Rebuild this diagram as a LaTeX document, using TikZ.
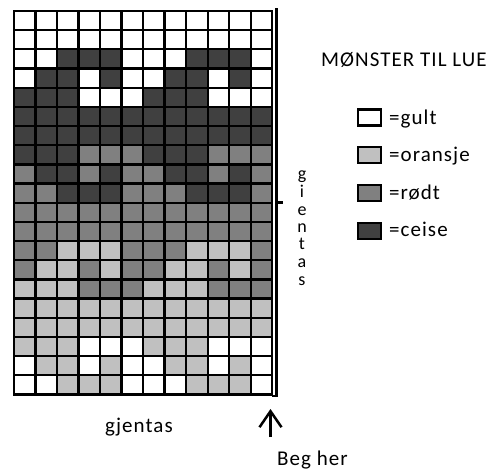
\documentclass[tikz,border=0pt]{standalone}
\usepackage{fontspec}
\setmainfont{Carlito}[LetterSpace=5]
\usetikzlibrary{arrows.meta}
\definecolor{cW}{gray}{1}
\definecolor{cO}{HTML}{C0C0C0}
\definecolor{cR}{HTML}{808080}
\definecolor{cC}{HTML}{404040}
\begin{document}
\begin{tikzpicture}[x=1pt,y=-1pt,
  gridline/.style={line width=2.3pt, black},
  lbl/.style={font=\fontsize{21}{24}\selectfont, inner sep=0pt, anchor=base west},
  vlet/.style={font=\fontsize{18}{20}\selectfont, inner sep=0pt, anchor=base},
  legbox/.style={draw, line width=2.3pt, minimum width=22.7pt, minimum height=16pt, inner sep=0pt}]
\useasboundingbox[fill=white] (0,0) rectangle (492,470);
\def\cw{21.52}\def\rh{19.175}
\foreach \row [count=\j from 0] in {
 {W,W,W,W,W,W,W,W,W,W,W,W},
 {W,W,W,W,W,W,W,W,W,W,W,W},
 {W,W,C,C,C,W,W,W,C,C,C,W},
 {W,C,C,W,C,W,W,C,C,W,C,W},
 {C,C,C,W,W,W,C,C,C,W,W,W},
 {C,C,C,C,C,C,C,C,C,C,C,C},
 {C,C,C,C,C,C,C,C,C,C,C,C},
 {C,C,C,R,R,R,C,C,C,R,R,R},
 {R,C,C,R,C,R,R,C,C,R,C,R},
 {R,R,C,C,C,R,R,R,C,C,C,R},
 {R,R,R,R,R,R,R,R,R,R,R,R},
 {R,R,R,R,R,R,R,R,R,R,R,R},
 {R,R,O,O,O,R,R,R,O,O,O,R},
 {R,O,O,R,O,R,R,O,O,R,O,R},
 {O,O,O,R,R,R,O,O,O,R,R,R},
 {O,O,O,O,O,O,O,O,O,O,O,O},
 {O,O,O,O,O,O,O,O,O,O,O,O},
 {O,O,O,W,W,W,O,O,O,W,W,W},
 {W,O,O,W,O,W,W,O,O,W,O,W},
 {W,W,O,O,O,W,W,W,O,O,O,W}} {
  \foreach \c [count=\i from 0] in \row {
    \fill[c\c] ({14+\i*\cw},{11+\j*\rh}) rectangle ++(\cw,\rh);
  }
}
\foreach \i in {1,...,11} \draw[gridline] ({14+\i*\cw},11) -- ({14+\i*\cw},394.5);
\foreach \j in {1,...,19} \draw[gridline] (14,{11+\j*\rh}) -- (272.24,{11+\j*\rh});
\draw[gridline] (14,11) rectangle (272.24,394.5);
% outer right line
\coordinate (o1) at (276.5,8.5);
\coordinate (o2) at (276.5,395.8);
\coordinate (o3) at (272,395.8);
\draw[line width=2.5pt] (o1) -- (o2) -- (o3);
% tick
\coordinate (t1) at (275,202.5);
\coordinate (t2) at (283,202.5);
\draw[line width=2.5pt] (t1) -- (t2);
% title
\node[lbl] (title) at (321,66.7) {MØNSTER TIL LUE};
% legend
\node[legbox, fill=cW] (b1) at (369.3,117.5) {};
\node[legbox, fill=cO] (b2) at (369.3,155) {};
\node[legbox, fill=cR] (b3) at (369.3,193.3) {};
\node[legbox, fill=cC] (b4) at (369.3,231) {};
\node[lbl] (l1) at (389,125) {=gult};
\node[lbl] (l2) at (389,162) {=oransje};
\node[lbl] (l3) at (389,199.5) {=rødt};
\node[lbl] (l4) at (389,236.5) {=ceise};
% vertical gjentas
\node[vlet] (v1) at (302,180) {g};
\node[vlet] (v2) at (302,197.5) {i};
\node[vlet] (v3) at (302,215) {e};
\node[vlet] (v4) at (302,232.5) {n};
\node[vlet] (v5) at (302,250) {t};
\node[vlet] (v6) at (302,267.5) {a};
\node[vlet] (v7) at (302,285) {s};
% bottom
\node[lbl] (gj) at (105,432) {gjentas};
\coordinate (aS) at (270.5,437);
\coordinate (aE) at (270.5,409);
\draw[line width=2.5pt, -{Straight Barb[length=16pt,width=22pt]}] (aS) -- (aE);
\node[lbl] (beg) at (277,465) {Beg her};
\end{tikzpicture}
\end{document}
